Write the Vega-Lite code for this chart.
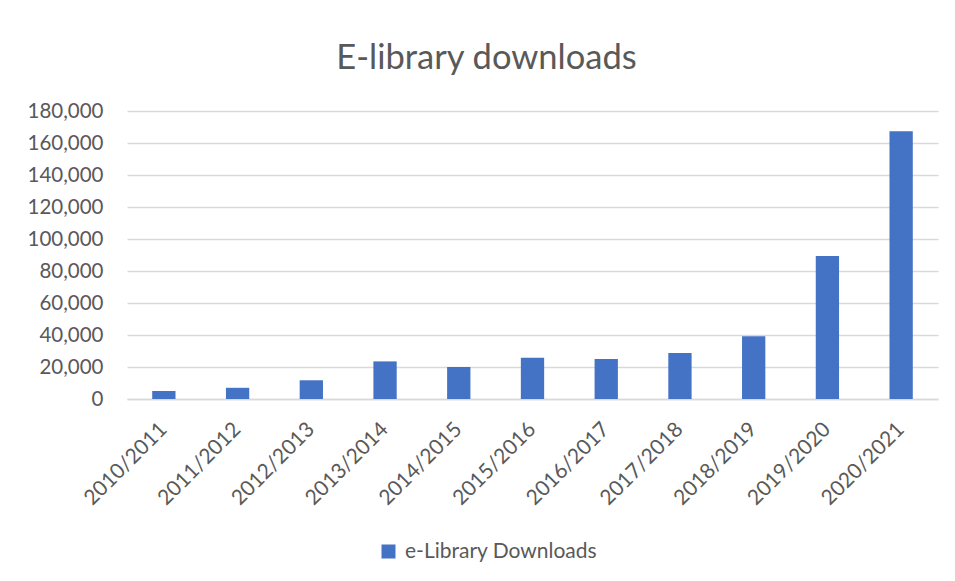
{
  "$schema": "https://vega.github.io/schema/vega-lite/v6.json",
  "width": 811,
  "height": 288,
  "autosize": {"type": "none"},
  "padding": {"left": 127, "top": 111, "right": 17, "bottom": 182},
  "background": "white",
  "title": {
    "text": "E-library downloads",
    "font": "Lato",
    "fontSize": 34.5,
    "fontWeight": "normal",
    "color": "#595959",
    "anchor": "middle",
    "frame": "group",
    "baseline": "alphabetic",
    "dx": -46,
    "dy": 7,
    "offset": 5
  },
  "data": {
    "values": [
      {"year": "2010/2011", "downloads": 5000},
      {"year": "2011/2012", "downloads": 7000},
      {"year": "2012/2013", "downloads": 11700},
      {"year": "2013/2014", "downloads": 23500},
      {"year": "2014/2015", "downloads": 20000},
      {"year": "2015/2016", "downloads": 25800},
      {"year": "2016/2017", "downloads": 25000},
      {"year": "2017/2018", "downloads": 28800},
      {"year": "2018/2019", "downloads": 39200},
      {"year": "2019/2020", "downloads": 89400},
      {"year": "2020/2021", "downloads": 167300}
    ]
  },
  "mark": {"type": "bar", "color": "#4472C4"},
  "encoding": {
    "x": {
      "field": "year",
      "type": "nominal",
      "sort": null,
      "scale": {"paddingInner": 0.684, "paddingOuter": 0.342},
      "axis": {
        "title": null,
        "labelAngle": -45,
        "labelAlign": "right",
        "labelBaseline": "middle",
        "labelFont": "Lato",
        "labelFontSize": 21,
        "labelColor": "#595959",
        "labelPadding": 27,
        "ticks": false,
        "domainColor": "#D9D9D9",
        "domainWidth": 1.5,
        "grid": false
      }
    },
    "y": {
      "field": "downloads",
      "type": "quantitative",
      "scale": {"domain": [0, 180000], "nice": false},
      "axis": {
        "title": null,
        "values": [0, 20000, 40000, 60000, 80000, 100000, 120000, 140000, 160000, 180000],
        "format": ",d",
        "labelFont": "Lato",
        "labelFontSize": 20.5,
        "labelColor": "#595959",
        "labelPadding": 24,
        "ticks": false,
        "domain": false,
        "gridColor": "#D9D9D9",
        "gridWidth": 1.5
      }
    },
    "fill": {
      "datum": "e-Library Downloads",
      "type": "nominal",
      "scale": {"range": ["#4472C4"]},
      "legend": {
        "title": null,
        "orient": "none",
        "legendX": 251,
        "legendY": 430,
        "padding": 0,
        "symbolType": "square",
        "symbolSize": 196,
        "symbolStrokeWidth": 0,
        "labelFont": "Lato",
        "labelFontSize": 21,
        "labelColor": "#595959",
        "labelOffset": 6,
        "labelLimit": 0
      }
    }
  },
  "config": {"view": {"stroke": null}}
}
